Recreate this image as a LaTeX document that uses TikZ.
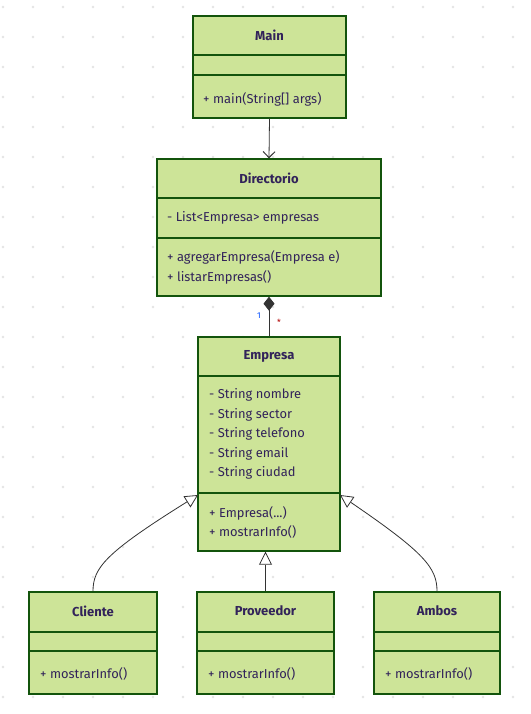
\documentclass[tikz,border=0pt]{standalone}
\usepackage{fontspec}
\setmainfont{Fira Sans}
\usetikzlibrary{arrows.meta}
\definecolor{cfill}{HTML}{CDE498}
\definecolor{cline}{HTML}{13540C}
\definecolor{ctext}{RGB}{50,35,90}
\definecolor{cdot}{RGB}{228,228,228}
\definecolor{cconn}{HTML}{333333}
\tikzset{
  classbox/.style={draw=cline, fill=cfill, line width=1.4pt, inner sep=0pt},
  divider/.style={draw=cline, line width=1.4pt},
  ctitle/.style={text=ctext, font=\fontsize{13}{15}\selectfont\bfseries, inner sep=0pt},
  member/.style={text=ctext, font=\fontsize{12.9}{15}\selectfont, inner sep=0pt, anchor=west},
  conn/.style={draw=cconn, line width=0.8pt},
  mult/.style={font=\fontsize{8.5}{9}\selectfont, inner sep=0pt}
}
\begin{document}
\begin{tikzpicture}[x=1pt,y=-1pt]
\useasboundingbox (0,0) rectangle (530,714);
\fill[white] (0,0) rectangle (530,714);
% background dots
\foreach \i in {0,...,17} {
  \foreach \j in {0,...,23} {
    \fill[cdot] (3+30*\i,7+30*\j) circle (1.4);
  }
}
% Main
\node[classbox, minimum width=153pt, minimum height=102pt] (main) at (269.5,67) {};
\draw[divider] (193,55) -- (346,55);
\draw[divider] (193,75) -- (346,75);
\node[ctitle] (mainT) at (269.5,35) {Main};
\node[member] (mainM1) at (203,99) {+ main(String[] args)};
% Directorio
\node[classbox, minimum width=224pt, minimum height=137pt] (dir) at (269,227.5) {};
\draw[divider] (157,198) -- (381,198);
\draw[divider] (157,238) -- (381,238);
\node[ctitle] (dirT) at (269,178) {Directorio};
\node[member] (dirA1) at (167,218) {- List<Empresa> empresas};
\node[member] (dirM1) at (167,257) {+ agregarEmpresa(Empresa e)};
\node[member] (dirM2) at (167,277) {+ listarEmpresas()};
% Empresa
\node[classbox, minimum width=142pt, minimum height=214pt] (emp) at (269,444) {};
\draw[divider] (198,376) -- (340,376);
\draw[divider] (198,493) -- (340,493);
\node[ctitle] (empT) at (269,356) {Empresa};
\node[member] (empA1) at (209,395) {- String nombre};
\node[member] (empA2) at (209,414.5) {- String sector};
\node[member] (empA3) at (209,434) {- String telefono};
\node[member] (empA4) at (209,453.5) {- String email};
\node[member] (empA5) at (209,473) {- String ciudad};
\node[member] (empM1) at (209,513) {+ Empresa(...)};
\node[member] (empM2) at (209,532) {+ mostrarInfo()};
% Cliente
\node[classbox, minimum width=128pt, minimum height=102pt] (cli) at (93,643) {};
\draw[divider] (29,632) -- (157,632);
\draw[divider] (29,651) -- (157,651);
\node[ctitle] (cliT) at (93,611) {Cliente};
\node[member] (cliM1) at (40,674) {+ mostrarInfo()};
% Proveedor
\node[classbox, minimum width=137pt, minimum height=102pt] (prov) at (265.5,643) {};
\draw[divider] (197,632) -- (334,632);
\draw[divider] (197,651) -- (334,651);
\node[ctitle] (provT) at (265.5,611) {Proveedor};
\node[member] (provM1) at (208,674) {+ mostrarInfo()};
% Ambos
\node[classbox, minimum width=126pt, minimum height=102pt] (amb) at (437,643) {};
\draw[divider] (374,632) -- (500,632);
\draw[divider] (374,651) -- (500,651);
\node[ctitle] (ambT) at (437,611) {Ambos};
\node[member] (ambM1) at (385,674) {+ mostrarInfo()};
% connectors
\draw[conn, -{Straight Barb[length=6pt,width=12pt,line width=1pt]}] (main.south) -- (dir.north);
\draw[conn, {Diamond[length=14pt,width=11pt]}-] (dir.south) -- (emp.north);
\node[mult, text=blue!70!cyan] (m1) at (259,316) {1};
\node[mult, text=red!70!black] (m2) at (279,322) {*};
\coordinate (empL) at (198,495);
\coordinate (empR) at (340,495);
\draw[conn, -{Triangle[open, length=13pt, width=13pt, fill=white]}] (cli.north) .. controls (93,568) and (105,553) .. (empL);
\draw[conn, -{Triangle[open, length=13pt, width=13pt, fill=white]}] (amb.north) .. controls (437,568) and (425,553) .. (empR);
\draw[conn, -{Triangle[open, length=13pt, width=13pt, fill=white]}] (prov.north) -- (prov.north |- emp.south);
\end{tikzpicture}
\end{document}
